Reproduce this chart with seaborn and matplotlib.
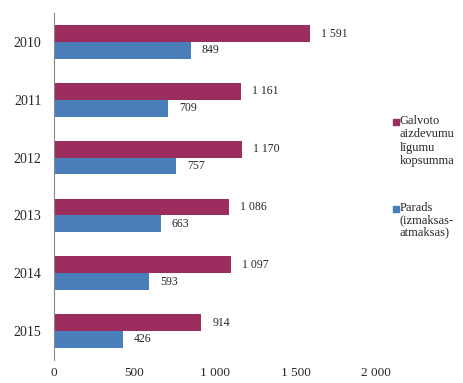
import matplotlib
matplotlib.use("Agg")
import matplotlib.pyplot as plt
import seaborn as sns
import pandas as pd
from matplotlib.patches import Rectangle

years = ["2010", "2011", "2012", "2013", "2014", "2015"]
loans = [1591, 1161, 1170, 1086, 1097, 914]
debt = [849, 709, 757, 663, 593, 426]
series_names = ["Galvoto\naizdevumu\nlīgumu\nkopsumma", "Parads\n(izmaksas-\natmaksas)"]
colors = ["#9B2D5F", "#4A7EBB"]
xticks = [0, 500, 1000, 1500, 2000]
xtick_labels = ["0", "500", "1 000", "1 500", "2 000"]

df = pd.DataFrame({
    "year": years * 2,
    "value": loans + debt,
    "series": [series_names[0]] * len(years) + [series_names[1]] * len(years),
})

sns.set_style("white")
plt.rcParams["font.family"] = ["Liberation Serif", "DejaVu Serif"]

W, H = 464, 383
fig = plt.figure(figsize=(W / 100, H / 100), dpi=100)
ax = fig.add_axes([54 / W, 1 - 360 / H, (376 - 54) / W, (360 - 13) / H])

sns.barplot(data=df, y="year", x="value", hue="series", orient="h",
            palette=colors, width=0.58, ax=ax, legend=False, saturation=1,
            linewidth=0, edgecolor="none")

ax.set_xlim(0, 2000)
ax.set_ylim(len(years) - 0.5, -0.5)
ax.set_xlabel("")
ax.set_ylabel("")
ax.set_xticks(xticks)
ax.set_xticklabels(xtick_labels, fontsize=9.5)
ax.tick_params(axis="y", which="major", length=0, pad=9, labelsize=10)
ax.set_yticks([i + 0.5 for i in range(-1, len(years))], minor=True)
ax.tick_params(axis="y", which="minor", length=3, color="#888888", direction="out")
ax.tick_params(axis="x", length=3, color="#aaaaaa", direction="out", pad=2)

for s in ["top", "right", "bottom"]:
    ax.spines[s].set_visible(False)
ax.spines["left"].set_color("#888888")
ax.spines["left"].set_linewidth(0.8)

def fmt(v):
    return f"{v:,}".replace(",", " ")

for cont in ax.containers:
    ax.bar_label(cont, labels=[fmt(int(b.get_width())) for b in cont],
                 padding=8, fontsize=8.5)

# legend
entries = [(122, 1.15), (209, 1.0)]
for name, col, (yy, ls) in zip(series_names, colors, entries):
    fig.patches.append(Rectangle((393 / W, 1 - (yy + 3) / H), 6 / W, 6 / H,
                                 transform=fig.transFigure, color=col))
    fig.text(400 / W, 1 - (yy - 7) / H, name, fontsize=9, va="top", ha="left",
             linespacing=ls)

fig.savefig("out.png", dpi=100)
